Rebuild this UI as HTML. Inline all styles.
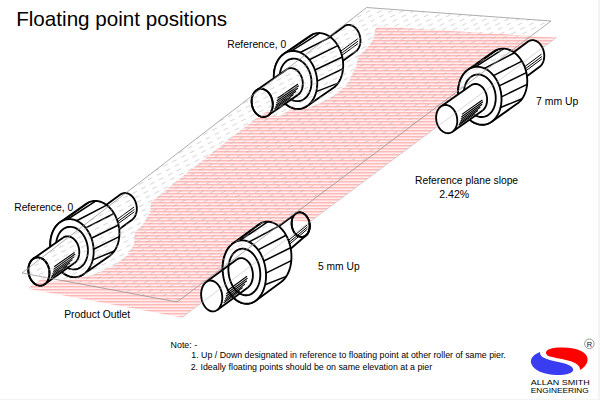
<!DOCTYPE html>
<html><head><meta charset="utf-8"><style>
html,body{margin:0;padding:0;background:#fff;overflow:hidden}
svg{display:block;font-family:"Liberation Sans",sans-serif}
</style></head><body>
<svg width="600" height="400" viewBox="0 0 600 400">
<defs>
<pattern id="pk" width="6" height="3" patternUnits="userSpaceOnUse">
<rect width="6" height="3" fill="#ffeeee"/>
<rect y="1" width="6" height="1" fill="#ffb8b8"/>
<rect y="2" width="6" height="1" fill="#ffd5d5"/>
</pattern>
<pattern id="gd" width="10" height="5" patternUnits="userSpaceOnUse" patternTransform="rotate(-27)">
<path d="M0,2.5 H5" stroke="#b2b2b2" stroke-width="0.5"/>
</pattern>
</defs>
<rect width="600" height="400" fill="#fff"/>
<rect x="598" y="0" width="2" height="400" fill="#f3f3f3"/>
<rect x="0" y="399" width="600" height="1" fill="#f3f3f3"/>
<path d="M556.6,37.4 L182,317.4 L27.7,288.7 L40,278 L50,282 L62,280 L78,278 L96,274 L115,265 L127.5,255 L133.75,245 L135,232.5 L142.5,225 L150,212.5 L151,202.5 L160,195 L175,182.5 L232,137 L257,118 L268,116 L280,116 L289,110 L302.5,107.7 L310,107 L322,102.5 L332.5,96.5 L343,88 L347.5,85 L351,76.25 L356,67.5 L358,57 L363,51.75 L370,44.75 L373.75,37.75 L375.5,29 L377,26.4 Z" fill="url(#pk)"/>
<path d="M344.01,26.41 L344.6,26.02 L345.21,25.68 L345.84,25.4 L346.49,25.18 L347.15,25.01 L347.83,24.91 L348.51,24.87 L349.2,24.88 L349.89,24.96 L350.58,25.1 L351.27,25.29 L351.95,25.55 L352.63,25.86 L353.29,26.23 L353.93,26.65 L354.56,27.13 L355.17,27.66 L355.76,28.23 L356.32,28.85 L356.86,29.52 L357.36,30.22 L357.83,30.97 L358.27,31.74 L358.67,32.55 L359.04,33.39 L359.36,34.25 L359.64,35.13 L359.89,36.02 L360.09,36.93 L360.24,37.85 L360.35,38.77 L360.42,39.69 L360.44,40.61 L360.42,41.53 L360.35,42.43 L360.23,43.31 L360.08,44.18 L359.87,45.03 L359.63,45.85 L359.34,46.64 L359.01,47.4 L358.65,48.12 L358.24,48.8 L357.8,49.44 L357.33,50.04 L356.82,50.59 L356.29,51.09 L355.72,51.53 L321.38,76.57 L320.8,76.97 L320.18,77.31 L319.55,77.59 L318.91,77.81 L318.24,77.97 L317.57,78.08 L316.89,78.12 L316.2,78.1 L315.51,78.02 L314.81,77.89 L314.13,77.69 L313.44,77.44 L312.77,77.12 L312.11,76.75 L311.46,76.33 L310.83,75.85 L310.22,75.33 L309.63,74.75 L309.07,74.13 L308.54,73.47 L308.03,72.76 L307.56,72.02 L307.12,71.24 L306.72,70.43 L306.36,69.6 L306.03,68.74 L305.75,67.86 L305.51,66.96 L305.31,66.05 L305.15,65.14 L305.04,64.22 L304.97,63.29 L304.95,62.37 L304.98,61.46 L305.05,60.56 L305.16,59.67 L305.32,58.8 L305.52,57.96 L305.77,57.14 L306.05,56.34 L306.38,55.59 L306.75,54.86 L307.15,54.18 L307.59,53.54 L308.07,52.95 L308.57,52.4 L309.11,51.9 L309.67,51.45 Z" fill="#fff" stroke="#000" stroke-width="1.85" stroke-linejoin="round"/>
<path d="M338.7,52.68 L357.69,38.84" stroke="#000" stroke-width="1.0" fill="none"/>
<path d="M339,55.07 L357.98,41.23" stroke="#000" stroke-width="1.0" fill="none"/>
<path d="M338.99,57.45 L357.97,43.61" stroke="#000" stroke-width="1.0" fill="none"/>
<path d="M309.81,35.94 L311.04,35.17 L312.31,34.51 L313.62,33.97 L314.96,33.55 L316.33,33.25 L317.72,33.08 L319.13,33.03 L320.54,33.11 L321.96,33.3 L323.38,33.63 L324.8,34.07 L326.19,34.63 L327.57,35.31 L328.92,36.1 L330.24,37.01 L331.52,38.02 L332.76,39.14 L333.95,40.35 L335.08,41.65 L336.16,43.05 L337.18,44.52 L338.12,46.07 L339,47.69 L339.8,49.37 L340.53,51.1 L341.17,52.88 L341.72,54.7 L342.19,56.55 L342.57,58.42 L342.87,60.31 L343.06,62.2 L343.17,64.1 L343.19,65.99 L343.11,67.86 L342.93,69.7 L342.67,71.51 L342.32,73.28 L341.87,75 L341.34,76.67 L340.72,78.28 L340.03,79.81 L339.25,81.27 L338.39,82.64 L337.47,83.93 L336.47,85.12 L335.41,86.22 L334.29,87.21 L333.12,88.09 L307.19,105.98 L305.96,106.75 L304.7,107.41 L303.39,107.95 L302.05,108.37 L300.68,108.66 L299.28,108.84 L297.88,108.89 L296.46,108.81 L295.04,108.61 L293.62,108.29 L292.21,107.85 L290.81,107.29 L289.43,106.61 L288.08,105.81 L286.76,104.91 L285.48,103.9 L284.24,102.78 L283.06,101.57 L281.92,100.26 L280.84,98.87 L279.83,97.4 L278.88,95.85 L278,94.23 L277.2,92.55 L276.48,90.82 L275.84,89.04 L275.28,87.22 L274.81,85.37 L274.43,83.5 L274.14,81.61 L273.94,79.71 L273.83,77.82 L273.82,75.93 L273.9,74.06 L274.07,72.22 L274.33,70.41 L274.69,68.64 L275.13,66.91 L275.66,65.25 L276.28,63.64 L276.98,62.11 L277.76,60.65 L278.61,59.27 L279.54,57.99 L280.53,56.79 L281.59,55.7 L282.71,54.71 L283.89,53.82 Z" fill="#fff" stroke="#000" stroke-width="1.85" stroke-linejoin="round"/>
<path d="M286.85,52.19 L313.38,34.06" stroke="#000" stroke-width="1.5" fill="none"/>
<path d="M291.19,51.03 L319.7,33.05" stroke="#000" stroke-width="1.5" fill="none"/>
<path d="M300.22,52.5 L330.46,37.17" stroke="#000" stroke-width="1.5" fill="none"/>
<path d="M309.29,59.71 L337.84,45.58" stroke="#000" stroke-width="1.5" fill="none"/>
<path d="M314.97,70 L342.3,57.04" stroke="#000" stroke-width="1.5" fill="none"/>
<path d="M317.2,81.07 L343.04,68.72" stroke="#000" stroke-width="1.5" fill="none"/>
<path d="M316.28,91.62 L338.06,83.13" stroke="#000" stroke-width="1.5" fill="none"/>
<path d="M317.23,81.71 L317.25,84.22 L317.1,86.71 L316.79,89.14 L316.31,91.5 L315.68,93.77 L314.89,95.93 L313.96,97.98 L312.88,99.88 L311.68,101.64 L310.35,103.22 L308.91,104.64 L307.36,105.86 L305.73,106.88 L304.02,107.7 L302.24,108.31 L300.42,108.7 L298.55,108.88 L296.67,108.83 L294.77,108.56 L292.88,108.08 L291.01,107.38 L289.18,106.47 L287.39,105.36 L285.67,104.05 L284.02,102.56 L282.46,100.9 L280.99,99.08 L279.64,97.11 L278.41,95.01 L277.31,92.8 L276.35,90.49 L275.54,88.1 L274.87,85.64 L274.37,83.15 L274.02,80.62 L273.84,78.09 L273.83,75.58 L273.97,73.1 L274.29,70.67 L274.76,68.31 L275.4,66.04 L276.18,63.87 L277.12,61.83 L278.19,59.92 L279.4,58.17 L280.73,56.58 L282.17,55.17 L283.71,53.95 L285.34,52.92 L287.05,52.1 L288.83,51.49 L290.66,51.1 L292.52,50.93 L294.41,50.97 L296.3,51.24 L298.19,51.73 L300.06,52.43 L301.9,53.34 L303.68,54.45 L305.41,55.75 L307.06,57.24 L308.62,58.9 L310.08,60.73 L311.43,62.69 L312.66,64.79 L313.76,67 L314.72,69.32 L315.54,71.71 L316.2,74.16 L316.71,76.66 L317.05,79.18 L317.23,81.71 Z" fill="#fff" stroke="#000" stroke-width="1.85"/>
<path d="M311.47,81.23 L311.48,83.08 L311.38,84.9 L311.14,86.68 L310.8,88.42 L310.33,90.09 L309.75,91.68 L309.07,93.18 L308.28,94.58 L307.39,95.87 L306.42,97.03 L305.36,98.07 L304.22,98.97 L303.02,99.72 L301.77,100.32 L300.46,100.77 L299.12,101.06 L297.75,101.19 L296.37,101.15 L294.97,100.95 L293.59,100.6 L292.21,100.08 L290.87,99.41 L289.55,98.6 L288.29,97.64 L287.08,96.55 L285.93,95.33 L284.86,93.99 L283.86,92.54 L282.96,91 L282.15,89.38 L281.44,87.68 L280.85,85.92 L280.36,84.12 L279.99,82.28 L279.73,80.43 L279.6,78.57 L279.59,76.73 L279.7,74.9 L279.93,73.12 L280.28,71.39 L280.74,69.72 L281.32,68.13 L282.01,66.63 L282.8,65.23 L283.68,63.94 L284.66,62.77 L285.72,61.74 L286.85,60.84 L288.05,60.08 L289.31,59.48 L290.61,59.03 L291.95,58.75 L293.32,58.62 L294.71,58.65 L296.1,58.85 L297.49,59.21 L298.86,59.72 L300.21,60.39 L301.52,61.21 L302.79,62.17 L304,63.26 L305.14,64.48 L306.22,65.82 L307.21,67.26 L308.11,68.8 L308.92,70.43 L309.63,72.13 L310.23,73.88 L310.72,75.69 L311.09,77.52 L311.34,79.37 L311.47,81.23 Z" fill="#fff" stroke="#000" stroke-width="1.85"/>
<path d="M286.57,69.48 L287.17,69.11 L287.79,68.79 L288.42,68.52 L289.08,68.32 L289.74,68.18 L290.42,68.09 L291.11,68.07 L291.8,68.1 L292.49,68.2 L293.18,68.36 L293.87,68.57 L294.55,68.84 L295.22,69.18 L295.87,69.56 L296.51,70 L297.14,70.5 L297.74,71.04 L298.32,71.63 L298.87,72.26 L299.4,72.94 L299.89,73.66 L300.35,74.41 L300.78,75.2 L301.17,76.02 L301.52,76.86 L301.83,77.73 L302.1,78.61 L302.33,79.51 L302.52,80.42 L302.66,81.34 L302.76,82.27 L302.81,83.19 L302.82,84.11 L302.78,85.02 L302.69,85.91 L302.57,86.8 L302.39,87.66 L302.18,88.5 L301.92,89.31 L301.62,90.09 L301.28,90.83 L300.9,91.54 L300.48,92.21 L300.03,92.84 L299.55,93.42 L299.03,93.95 L298.49,94.44 L297.92,94.87 L267.87,115.59 L267.28,115.97 L266.66,116.29 L266.02,116.55 L265.37,116.75 L264.7,116.9 L264.02,116.98 L263.34,117.01 L262.65,116.97 L261.96,116.87 L261.27,116.72 L260.58,116.5 L259.9,116.23 L259.23,115.9 L258.57,115.51 L257.93,115.07 L257.31,114.58 L256.7,114.04 L256.12,113.45 L255.57,112.81 L255.05,112.13 L254.55,111.41 L254.09,110.66 L253.67,109.87 L253.28,109.06 L252.92,108.21 L252.61,107.35 L252.34,106.46 L252.11,105.56 L251.93,104.65 L251.78,103.73 L251.69,102.81 L251.64,101.89 L251.63,100.97 L251.67,100.06 L251.75,99.16 L251.88,98.28 L252.05,97.42 L252.27,96.58 L252.53,95.77 L252.83,94.99 L253.17,94.24 L253.55,93.53 L253.96,92.86 L254.41,92.23 L254.9,91.65 L255.41,91.12 L255.96,90.64 L256.53,90.21 Z" fill="#fff" stroke="none"/>
<path d="M256.53,90.21 L286.57,69.48" stroke="#000" stroke-width="1.85" fill="none"/>
<path d="M267.87,115.59 L297.92,94.87" stroke="#000" stroke-width="1.85" fill="none"/>
<path d="M286.57,69.48 L287.29,69.04 L288.04,68.67 L288.81,68.39 L289.61,68.2 L290.42,68.09 L291.24,68.07 L292.07,68.13 L292.9,68.29 L293.73,68.52 L294.55,68.84 L295.35,69.25 L296.13,69.73 L296.89,70.29 L297.62,70.93 L298.32,71.63 L298.98,72.4 L299.6,73.22 L300.17,74.11 L300.7,75.04 L301.17,76.02 L301.59,77.03 L301.95,78.08 L302.25,79.15 L302.49,80.24 L302.66,81.34 L302.77,82.45 L302.82,83.56 L302.8,84.65 L302.71,85.74 L302.57,86.8 L302.35,87.83 L302.08,88.82 L301.74,89.78 L301.35,90.69 L300.9,91.54 L300.4,92.34 L299.84,93.08 L299.24,93.75 L298.6,94.34 L297.92,94.87" fill="none" stroke="#000" stroke-width="1.85"/>
<path d="M277.5,98.26 L298.08,84.06" stroke="#000" stroke-width="1.1" fill="none"/>
<path d="M276.87,100.8 L298.68,85.75" stroke="#000" stroke-width="1.1" fill="none"/>
<path d="M276.45,103.04 L297.85,88.28" stroke="#000" stroke-width="1.1" fill="none"/>
<path d="M275.82,105.23 L295.98,91.32" stroke="#000" stroke-width="1.1" fill="none"/>
<path d="M274.99,107.33 L293.51,94.56" stroke="#000" stroke-width="1.1" fill="none"/>
<path d="M274.21,109.14 L290.83,97.67" stroke="#000" stroke-width="1.1" fill="none"/>
<path d="M272.76,103.78 L272.77,105 L272.7,106.21 L272.54,107.39 L272.31,108.54 L272,109.65 L271.62,110.7 L271.17,111.7 L270.64,112.62 L270.06,113.48 L269.41,114.25 L268.71,114.94 L267.96,115.53 L267.16,116.03 L266.33,116.43 L265.46,116.73 L264.58,116.92 L263.67,117 L262.75,116.98 L261.83,116.85 L260.91,116.61 L260,116.27 L259.11,115.83 L258.24,115.29 L257.4,114.65 L256.59,113.93 L255.83,113.12 L255.12,112.23 L254.46,111.28 L253.87,110.26 L253.33,109.18 L252.86,108.05 L252.46,106.89 L252.14,105.69 L251.9,104.48 L251.73,103.25 L251.64,102.02 L251.63,100.8 L251.7,99.59 L251.86,98.41 L252.09,97.26 L252.4,96.15 L252.78,95.1 L253.23,94.1 L253.76,93.18 L254.34,92.32 L254.99,91.55 L255.69,90.86 L256.44,90.27 L257.24,89.77 L258.07,89.37 L258.94,89.07 L259.82,88.88 L260.73,88.8 L261.65,88.82 L262.57,88.95 L263.49,89.19 L264.4,89.53 L265.29,89.97 L266.16,90.51 L267,91.15 L267.81,91.87 L268.57,92.68 L269.28,93.57 L269.94,94.52 L270.53,95.54 L271.07,96.62 L271.54,97.75 L271.94,98.91 L272.26,100.11 L272.5,101.32 L272.67,102.55 L272.76,103.78 Z" fill="#fff" stroke="#000" stroke-width="1.85"/>
<path d="M527.76,41.75 L528.35,41.35 L528.96,41.01 L529.58,40.72 L530.23,40.49 L530.89,40.32 L531.56,40.21 L532.25,40.15 L532.93,40.16 L533.63,40.23 L534.32,40.36 L535.01,40.55 L535.69,40.8 L536.37,41.1 L537.03,41.47 L537.68,41.88 L538.31,42.35 L538.92,42.87 L539.51,43.44 L540.08,44.06 L540.61,44.72 L541.12,45.42 L541.6,46.16 L542.04,46.93 L542.45,47.73 L542.82,48.56 L543.15,49.42 L543.44,50.3 L543.68,51.19 L543.89,52.1 L544.05,53.02 L544.17,53.94 L544.24,54.86 L544.27,55.78 L544.25,56.69 L544.18,57.6 L544.08,58.49 L543.92,59.36 L543.73,60.21 L543.49,61.03 L543.21,61.83 L542.88,62.59 L542.52,63.32 L542.12,64 L541.69,64.65 L541.22,65.25 L540.71,65.81 L540.18,66.31 L539.62,66.77 L505.55,92.16 L504.96,92.56 L504.35,92.91 L503.73,93.2 L503.08,93.43 L502.42,93.6 L501.75,93.71 L501.06,93.76 L500.38,93.75 L499.68,93.68 L498.99,93.55 L498.3,93.36 L497.62,93.12 L496.94,92.81 L496.28,92.45 L495.63,92.03 L495,91.56 L494.39,91.04 L493.8,90.47 L493.23,89.86 L492.7,89.2 L492.19,88.5 L491.71,87.76 L491.27,86.99 L490.86,86.18 L490.49,85.35 L490.16,84.49 L489.87,83.62 L489.63,82.72 L489.42,81.82 L489.26,80.9 L489.14,79.98 L489.07,79.05 L489.04,78.13 L489.06,77.22 L489.12,76.32 L489.23,75.43 L489.39,74.56 L489.58,73.71 L489.82,72.88 L490.1,72.09 L490.43,71.33 L490.79,70.6 L491.19,69.91 L491.62,69.26 L492.09,68.66 L492.6,68.11 L493.13,67.6 L493.69,67.15 Z" fill="#fff" stroke="#000" stroke-width="1.85" stroke-linejoin="round"/>
<path d="M522.69,68.19 L541.53,54.15" stroke="#000" stroke-width="1.0" fill="none"/>
<path d="M522.99,70.58 L541.83,56.54" stroke="#000" stroke-width="1.0" fill="none"/>
<path d="M522.98,72.96 L541.82,58.92" stroke="#000" stroke-width="1.0" fill="none"/>
<path d="M493.73,51.62 L494.95,50.84 L496.21,50.17 L497.52,49.61 L498.85,49.18 L500.22,48.87 L501.61,48.68 L503.01,48.61 L504.43,48.67 L505.85,48.85 L507.27,49.16 L508.69,49.59 L510.08,50.13 L511.46,50.8 L512.82,51.58 L514.14,52.47 L515.43,53.47 L516.67,54.57 L517.87,55.77 L519.01,57.07 L520.1,58.45 L521.12,59.91 L522.08,61.45 L522.96,63.06 L523.77,64.73 L524.51,66.46 L525.16,68.23 L525.73,70.04 L526.21,71.89 L526.6,73.76 L526.9,75.65 L527.11,77.54 L527.23,79.44 L527.26,81.33 L527.19,83.2 L527.03,85.05 L526.78,86.86 L526.43,88.64 L526,90.37 L525.48,92.04 L524.88,93.66 L524.19,95.2 L523.42,96.67 L522.57,98.06 L521.66,99.35 L520.67,100.56 L519.62,101.67 L518.51,102.67 L517.34,103.57 L491.6,121.73 L490.38,122.51 L489.12,123.18 L487.81,123.74 L486.48,124.17 L485.11,124.48 L483.72,124.67 L482.31,124.74 L480.9,124.68 L479.48,124.5 L478.06,124.19 L476.64,123.76 L475.24,123.22 L473.86,122.55 L472.51,121.77 L471.19,120.88 L469.9,119.88 L468.66,118.78 L467.46,117.58 L466.32,116.29 L465.23,114.9 L464.21,113.44 L463.25,111.9 L462.37,110.29 L461.56,108.62 L460.82,106.89 L460.17,105.12 L459.6,103.31 L459.12,101.46 L458.73,99.59 L458.43,97.7 L458.22,95.81 L458.1,93.91 L458.07,92.02 L458.14,90.15 L458.3,88.3 L458.55,86.49 L458.89,84.71 L459.33,82.98 L459.85,81.31 L460.45,79.69 L461.14,78.15 L461.91,76.68 L462.75,75.3 L463.67,74 L464.66,72.79 L465.71,71.68 L466.82,70.68 L467.99,69.78 Z" fill="#fff" stroke="#000" stroke-width="1.85" stroke-linejoin="round"/>
<path d="M471.11,68.04 L497.45,49.64" stroke="#000" stroke-width="1.5" fill="none"/>
<path d="M475.45,66.88 L503.77,48.63" stroke="#000" stroke-width="1.5" fill="none"/>
<path d="M484.47,68.35 L514.53,52.76" stroke="#000" stroke-width="1.5" fill="none"/>
<path d="M493.55,75.56 L521.91,61.16" stroke="#000" stroke-width="1.5" fill="none"/>
<path d="M499.23,85.85 L526.37,72.62" stroke="#000" stroke-width="1.5" fill="none"/>
<path d="M501.46,96.92 L527.11,84.31" stroke="#000" stroke-width="1.5" fill="none"/>
<path d="M500.54,107.47 L522.13,98.71" stroke="#000" stroke-width="1.5" fill="none"/>
<path d="M501.49,97.56 L501.51,100.08 L501.36,102.56 L501.04,104.99 L500.57,107.35 L499.94,109.62 L499.15,111.78 L498.21,113.83 L497.14,115.73 L495.93,117.49 L494.61,119.08 L493.16,120.49 L491.62,121.71 L489.99,122.74 L488.28,123.56 L486.5,124.16 L484.67,124.56 L482.81,124.73 L480.92,124.68 L479.03,124.41 L477.14,123.93 L475.27,123.23 L473.44,122.32 L471.65,121.21 L469.92,119.9 L468.28,118.41 L466.71,116.75 L465.25,114.93 L463.9,112.96 L462.67,110.87 L461.57,108.65 L460.61,106.34 L459.79,103.95 L459.13,101.5 L458.62,99 L458.28,96.47 L458.1,93.95 L458.08,91.43 L458.23,88.95 L458.55,86.52 L459.02,84.16 L459.65,81.89 L460.44,79.72 L461.37,77.68 L462.45,75.77 L463.65,74.02 L464.98,72.43 L466.42,71.02 L467.97,69.8 L469.6,68.77 L471.31,67.95 L473.09,67.34 L474.91,66.95 L476.78,66.78 L478.66,66.83 L480.56,67.09 L482.45,67.58 L484.32,68.28 L486.15,69.19 L487.94,70.3 L489.66,71.61 L491.31,73.1 L492.87,74.76 L494.34,76.58 L495.69,78.54 L496.92,80.64 L498.02,82.86 L498.98,85.17 L499.8,87.56 L500.46,90.01 L500.96,92.51 L501.31,95.03 L501.49,97.56 Z" fill="#fff" stroke="#000" stroke-width="1.85"/>
<path d="M495.73,97.08 L495.74,98.93 L495.63,100.75 L495.4,102.54 L495.05,104.27 L494.59,105.94 L494.01,107.53 L493.32,109.03 L492.54,110.43 L491.65,111.72 L490.67,112.89 L489.61,113.92 L488.48,114.82 L487.28,115.57 L486.02,116.18 L484.72,116.62 L483.38,116.91 L482.01,117.04 L480.62,117 L479.23,116.81 L477.84,116.45 L476.47,115.93 L475.12,115.27 L473.81,114.45 L472.55,113.49 L471.33,112.4 L470.19,111.18 L469.11,109.84 L468.12,108.4 L467.22,106.85 L466.41,105.23 L465.7,103.53 L465.1,101.77 L464.62,99.97 L464.24,98.14 L463.99,96.28 L463.86,94.43 L463.85,92.58 L463.96,90.76 L464.19,88.97 L464.54,87.24 L465,85.57 L465.58,83.98 L466.26,82.48 L467.05,81.08 L467.94,79.79 L468.92,78.62 L469.97,77.59 L471.11,76.69 L472.31,75.94 L473.56,75.33 L474.87,74.89 L476.21,74.6 L477.58,74.47 L478.96,74.51 L480.36,74.7 L481.74,75.06 L483.12,75.57 L484.46,76.24 L485.78,77.06 L487.04,78.02 L488.25,79.11 L489.4,80.33 L490.48,81.67 L491.47,83.11 L492.37,84.65 L493.18,86.28 L493.89,87.98 L494.49,89.74 L494.97,91.54 L495.34,93.37 L495.6,95.23 L495.73,97.08 Z" fill="#fff" stroke="#000" stroke-width="1.85"/>
<path d="M470.78,85.42 L471.37,85.04 L471.99,84.71 L472.62,84.44 L473.27,84.23 L473.94,84.08 L474.61,83.98 L475.3,83.95 L475.99,83.98 L476.68,84.07 L477.37,84.22 L478.06,84.43 L478.74,84.69 L479.41,85.02 L480.07,85.4 L480.72,85.83 L481.34,86.32 L481.95,86.85 L482.53,87.44 L483.09,88.07 L483.61,88.74 L484.11,89.45 L484.58,90.2 L485.01,90.98 L485.4,91.8 L485.76,92.64 L486.08,93.5 L486.35,94.38 L486.59,95.28 L486.78,96.19 L486.93,97.11 L487.03,98.03 L487.09,98.96 L487.1,99.88 L487.07,100.79 L486.99,101.69 L486.87,102.57 L486.7,103.44 L486.49,104.28 L486.23,105.09 L485.94,105.88 L485.6,106.63 L485.23,107.34 L484.82,108.02 L484.37,108.65 L483.89,109.24 L483.38,109.78 L482.84,110.26 L482.27,110.7 L452.45,131.74 L451.85,132.12 L451.24,132.45 L450.6,132.72 L449.95,132.93 L449.29,133.08 L448.61,133.18 L447.93,133.21 L447.24,133.18 L446.55,133.09 L445.85,132.94 L445.17,132.73 L444.49,132.47 L443.81,132.14 L443.15,131.76 L442.51,131.33 L441.88,130.84 L441.28,130.31 L440.7,129.72 L440.14,129.09 L439.61,128.42 L439.11,127.71 L438.65,126.96 L438.22,126.18 L437.82,125.36 L437.47,124.52 L437.15,123.66 L436.87,122.78 L436.64,121.88 L436.45,120.97 L436.3,120.05 L436.2,119.13 L436.14,118.2 L436.13,117.28 L436.16,116.37 L436.24,115.47 L436.36,114.59 L436.53,113.72 L436.74,112.88 L436.99,112.07 L437.29,111.28 L437.62,110.53 L437.99,109.82 L438.41,109.14 L438.85,108.51 L439.33,107.92 L439.85,107.38 L440.39,106.9 L440.95,106.46 Z" fill="#fff" stroke="none"/>
<path d="M440.95,106.46 L470.78,85.42" stroke="#000" stroke-width="1.85" fill="none"/>
<path d="M452.45,131.74 L482.27,110.7" stroke="#000" stroke-width="1.85" fill="none"/>
<path d="M470.78,85.42 L471.49,84.97 L472.24,84.59 L473.01,84.31 L473.8,84.1 L474.61,83.98 L475.44,83.95 L476.27,84.01 L477.1,84.15 L477.92,84.38 L478.74,84.69 L479.54,85.09 L480.33,85.56 L481.09,86.12 L481.83,86.74 L482.53,87.44 L483.19,88.2 L483.82,89.02 L484.4,89.9 L484.92,90.83 L485.4,91.8 L485.83,92.81 L486.19,93.85 L486.5,94.92 L486.74,96.01 L486.93,97.11 L487.04,98.22 L487.1,99.33 L487.08,100.42 L487.01,101.51 L486.87,102.57 L486.66,103.61 L486.39,104.61 L486.06,105.57 L485.68,106.48 L485.23,107.34 L484.73,108.15 L484.18,108.89 L483.59,109.57 L482.95,110.17 L482.27,110.7" fill="none" stroke="#000" stroke-width="1.85"/>
<path d="M461.96,114.41 L482.39,100" stroke="#000" stroke-width="1.1" fill="none"/>
<path d="M461.34,116.96 L482.99,101.68" stroke="#000" stroke-width="1.1" fill="none"/>
<path d="M460.92,119.2 L482.17,104.22" stroke="#000" stroke-width="1.1" fill="none"/>
<path d="M460.29,121.4 L480.31,107.28" stroke="#000" stroke-width="1.1" fill="none"/>
<path d="M459.46,123.5 L477.85,110.53" stroke="#000" stroke-width="1.1" fill="none"/>
<path d="M458.69,125.31 L475.19,113.66" stroke="#000" stroke-width="1.1" fill="none"/>
<path d="M457.26,119.98 L457.27,121.2 L457.2,122.41 L457.04,123.59 L456.81,124.74 L456.5,125.85 L456.12,126.9 L455.67,127.9 L455.14,128.82 L454.56,129.68 L453.91,130.45 L453.21,131.14 L452.46,131.73 L451.66,132.23 L450.83,132.63 L449.96,132.93 L449.08,133.12 L448.17,133.2 L447.25,133.18 L446.33,133.05 L445.41,132.81 L444.5,132.47 L443.61,132.03 L442.74,131.49 L441.9,130.85 L441.09,130.13 L440.33,129.32 L439.62,128.43 L438.96,127.48 L438.37,126.46 L437.83,125.38 L437.36,124.25 L436.96,123.09 L436.64,121.89 L436.4,120.68 L436.23,119.45 L436.14,118.22 L436.13,117 L436.2,115.79 L436.36,114.61 L436.59,113.46 L436.9,112.35 L437.28,111.3 L437.73,110.3 L438.26,109.38 L438.84,108.52 L439.49,107.75 L440.19,107.06 L440.94,106.47 L441.74,105.97 L442.57,105.57 L443.44,105.27 L444.32,105.08 L445.23,105 L446.15,105.02 L447.07,105.15 L447.99,105.39 L448.9,105.73 L449.79,106.17 L450.66,106.71 L451.5,107.35 L452.31,108.07 L453.07,108.88 L453.78,109.77 L454.44,110.72 L455.03,111.74 L455.57,112.82 L456.04,113.95 L456.44,115.11 L456.76,116.31 L457,117.52 L457.17,118.75 L457.26,119.98 Z" fill="#fff" stroke="#000" stroke-width="1.85"/>
<path d="M120.34,194.58 L120.92,194.18 L121.53,193.84 L122.16,193.56 L122.81,193.33 L123.47,193.16 L124.15,193.06 L124.83,193.01 L125.52,193.02 L126.21,193.1 L126.9,193.23 L127.59,193.42 L128.27,193.67 L128.95,193.98 L129.61,194.35 L130.26,194.77 L130.89,195.24 L131.5,195.76 L132.09,196.34 L132.65,196.96 L133.19,197.62 L133.69,198.32 L134.17,199.06 L134.61,199.84 L135.01,200.64 L135.38,201.47 L135.7,202.33 L135.99,203.21 L136.24,204.11 L136.44,205.01 L136.6,205.93 L136.71,206.85 L136.78,207.78 L136.81,208.7 L136.78,209.61 L136.72,210.51 L136.61,211.4 L136.45,212.27 L136.25,213.12 L136.01,213.94 L135.72,214.73 L135.4,215.49 L135.04,216.22 L134.63,216.9 L134.2,217.55 L133.72,218.15 L133.22,218.7 L132.69,219.2 L132.12,219.65 L97.92,244.87 L97.33,245.27 L96.72,245.61 L96.09,245.89 L95.44,246.12 L94.78,246.28 L94.11,246.39 L93.43,246.44 L92.74,246.43 L92.05,246.35 L91.35,246.22 L90.66,246.03 L89.98,245.77 L89.31,245.47 L88.64,245.1 L88,244.68 L87.37,244.21 L86.76,243.68 L86.17,243.11 L85.6,242.49 L85.07,241.83 L84.56,241.13 L84.09,240.39 L83.65,239.61 L83.24,238.81 L82.88,237.97 L82.55,237.12 L82.26,236.24 L82.02,235.34 L81.81,234.43 L81.66,233.52 L81.54,232.6 L81.47,231.67 L81.45,230.75 L81.47,229.84 L81.54,228.94 L81.65,228.05 L81.8,227.18 L82,226.33 L82.25,225.51 L82.53,224.72 L82.85,223.96 L83.22,223.23 L83.62,222.55 L84.06,221.9 L84.53,221.3 L85.03,220.75 L85.57,220.25 L86.13,219.8 Z" fill="#fff" stroke="#000" stroke-width="1.85" stroke-linejoin="round"/>
<path d="M115.15,220.94 L134.06,206.99" stroke="#000" stroke-width="1.0" fill="none"/>
<path d="M115.44,223.33 L134.36,209.38" stroke="#000" stroke-width="1.0" fill="none"/>
<path d="M115.43,225.71 L134.35,211.76" stroke="#000" stroke-width="1.0" fill="none"/>
<path d="M85.88,203.98 L87.1,203.2 L88.36,202.52 L89.67,201.97 L91,201.53 L92.37,201.22 L93.76,201.03 L95.16,200.96 L96.58,201.02 L98,201.2 L99.42,201.5 L100.83,201.93 L102.23,202.48 L103.61,203.14 L104.97,203.92 L106.29,204.81 L107.58,205.81 L108.82,206.91 L110.02,208.11 L111.16,209.4 L112.25,210.78 L113.27,212.24 L114.23,213.78 L115.12,215.39 L115.93,217.06 L116.66,218.79 L117.32,220.56 L117.88,222.37 L118.37,224.22 L118.76,226.09 L119.06,227.98 L119.28,229.87 L119.39,231.77 L119.42,233.66 L119.36,235.53 L119.2,237.38 L118.94,239.19 L118.6,240.97 L118.17,242.7 L117.65,244.38 L117.05,245.99 L116.36,247.53 L115.59,249 L114.75,250.39 L113.83,251.69 L112.84,252.9 L111.79,254.01 L110.68,255.01 L109.51,255.91 L83.79,274.09 L82.57,274.88 L81.31,275.55 L80.01,276.1 L78.67,276.54 L77.3,276.85 L75.91,277.04 L74.51,277.11 L73.09,277.05 L71.67,276.87 L70.25,276.57 L68.84,276.14 L67.44,275.59 L66.06,274.93 L64.7,274.15 L63.38,273.26 L62.09,272.27 L60.85,271.16 L59.65,269.96 L58.51,268.67 L57.42,267.29 L56.4,265.83 L55.44,264.29 L54.56,262.68 L53.74,261.01 L53.01,259.28 L52.36,257.51 L51.79,255.7 L51.31,253.85 L50.91,251.98 L50.61,250.09 L50.4,248.2 L50.28,246.3 L50.25,244.41 L50.32,242.54 L50.48,240.69 L50.73,238.88 L51.07,237.1 L51.5,235.37 L52.02,233.7 L52.63,232.08 L53.31,230.54 L54.08,229.07 L54.92,227.68 L55.84,226.38 L56.83,225.17 L57.88,224.07 L58.99,223.06 L60.16,222.16 Z" fill="#fff" stroke="#000" stroke-width="1.85" stroke-linejoin="round"/>
<path d="M63.29,220.41 L89.61,201.99" stroke="#000" stroke-width="1.5" fill="none"/>
<path d="M67.63,219.25 L95.94,200.98" stroke="#000" stroke-width="1.5" fill="none"/>
<path d="M76.65,220.72 L106.69,205.1" stroke="#000" stroke-width="1.5" fill="none"/>
<path d="M85.73,227.94 L114.07,213.51" stroke="#000" stroke-width="1.5" fill="none"/>
<path d="M91.41,238.22 L118.53,224.97" stroke="#000" stroke-width="1.5" fill="none"/>
<path d="M93.64,249.29 L119.27,236.65" stroke="#000" stroke-width="1.5" fill="none"/>
<path d="M92.72,259.84 L114.29,251.06" stroke="#000" stroke-width="1.5" fill="none"/>
<path d="M93.67,249.93 L93.69,252.45 L93.54,254.93 L93.22,257.36 L92.75,259.72 L92.11,261.99 L91.33,264.16 L90.39,266.2 L89.32,268.11 L88.11,269.86 L86.79,271.45 L85.34,272.86 L83.8,274.08 L82.17,275.11 L80.46,275.93 L78.68,276.54 L76.85,276.93 L74.99,277.1 L73.1,277.05 L71.21,276.79 L69.32,276.3 L67.45,275.6 L65.62,274.69 L63.83,273.58 L62.1,272.27 L60.46,270.79 L58.89,269.12 L57.43,267.3 L56.08,265.34 L54.85,263.24 L53.75,261.02 L52.79,258.71 L51.97,256.32 L51.31,253.87 L50.8,251.37 L50.46,248.85 L50.28,246.32 L50.26,243.8 L50.41,241.32 L50.72,238.89 L51.2,236.53 L51.83,234.26 L52.62,232.1 L53.55,230.05 L54.63,228.15 L55.83,226.39 L57.16,224.8 L58.6,223.39 L60.15,222.17 L61.78,221.14 L63.49,220.32 L65.27,219.72 L67.09,219.32 L68.96,219.15 L70.84,219.2 L72.74,219.47 L74.63,219.95 L76.5,220.65 L78.33,221.56 L80.12,222.67 L81.84,223.98 L83.49,225.47 L85.05,227.13 L86.52,228.95 L87.87,230.92 L89.1,233.01 L90.2,235.23 L91.16,237.54 L91.98,239.93 L92.64,242.38 L93.14,244.88 L93.49,247.41 L93.67,249.93 Z" fill="#fff" stroke="#000" stroke-width="1.85"/>
<path d="M87.91,249.45 L87.92,251.3 L87.81,253.12 L87.58,254.91 L87.23,256.64 L86.77,258.31 L86.19,259.9 L85.5,261.4 L84.72,262.8 L83.83,264.09 L82.85,265.26 L81.79,266.29 L80.66,267.19 L79.46,267.94 L78.2,268.55 L76.9,268.99 L75.56,269.28 L74.19,269.41 L72.8,269.37 L71.41,269.18 L70.02,268.82 L68.65,268.31 L67.3,267.64 L65.99,266.82 L64.72,265.86 L63.51,264.77 L62.37,263.55 L61.29,262.21 L60.3,260.77 L59.4,259.23 L58.59,257.6 L57.88,255.9 L57.28,254.14 L56.8,252.34 L56.42,250.51 L56.17,248.65 L56.04,246.8 L56.03,244.95 L56.14,243.13 L56.37,241.34 L56.72,239.61 L57.18,237.94 L57.76,236.35 L58.44,234.85 L59.23,233.45 L60.12,232.16 L61.09,231 L62.15,229.96 L63.29,229.06 L64.49,228.31 L65.74,227.7 L67.05,227.26 L68.39,226.97 L69.76,226.84 L71.14,226.88 L72.54,227.07 L73.92,227.43 L75.3,227.95 L76.64,228.61 L77.96,229.43 L79.22,230.39 L80.43,231.48 L81.58,232.7 L82.66,234.04 L83.65,235.48 L84.55,237.03 L85.36,238.65 L86.07,240.35 L86.67,242.11 L87.15,243.91 L87.52,245.74 L87.78,247.6 L87.91,249.45 Z" fill="#fff" stroke="#000" stroke-width="1.85"/>
<path d="M62.96,237.8 L63.55,237.41 L64.16,237.09 L64.8,236.82 L65.45,236.6 L66.11,236.45 L66.79,236.36 L67.47,236.33 L68.16,236.35 L68.85,236.44 L69.55,236.59 L70.23,236.8 L70.91,237.06 L71.59,237.39 L72.25,237.77 L72.89,238.2 L73.52,238.68 L74.12,239.22 L74.7,239.8 L75.26,240.43 L75.79,241.11 L76.29,241.82 L76.75,242.57 L77.19,243.35 L77.58,244.16 L77.94,245 L78.26,245.87 L78.53,246.75 L78.77,247.65 L78.96,248.56 L79.11,249.48 L79.21,250.4 L79.27,251.32 L79.28,252.24 L79.25,253.15 L79.17,254.05 L79.05,254.94 L78.88,255.8 L78.67,256.64 L78.42,257.46 L78.13,258.24 L77.79,258.99 L77.42,259.71 L77.01,260.38 L76.56,261.02 L76.08,261.6 L75.57,262.14 L75.03,262.63 L74.46,263.07 L44.65,284.14 L44.06,284.52 L43.44,284.85 L42.81,285.12 L42.16,285.33 L41.49,285.48 L40.82,285.57 L40.13,285.61 L39.44,285.58 L38.75,285.49 L38.06,285.34 L37.37,285.14 L36.69,284.87 L36.02,284.55 L35.36,284.17 L34.72,283.73 L34.09,283.25 L33.49,282.71 L32.9,282.13 L32.35,281.5 L31.82,280.83 L31.32,280.12 L30.85,279.37 L30.42,278.58 L30.03,277.77 L29.67,276.93 L29.35,276.07 L29.08,275.19 L28.84,274.29 L28.65,273.38 L28.5,272.46 L28.4,271.54 L28.34,270.61 L28.33,269.69 L28.36,268.78 L28.44,267.88 L28.56,267 L28.73,266.13 L28.94,265.29 L29.19,264.48 L29.48,263.69 L29.82,262.94 L30.19,262.22 L30.6,261.55 L31.05,260.92 L31.53,260.33 L32.04,259.79 L32.58,259.3 L33.15,258.86 Z" fill="#fff" stroke="none"/>
<path d="M33.15,258.86 L62.96,237.8" stroke="#000" stroke-width="1.85" fill="none"/>
<path d="M44.65,284.14 L74.46,263.07" stroke="#000" stroke-width="1.85" fill="none"/>
<path d="M62.96,237.8 L63.67,237.34 L64.41,236.97 L65.19,236.68 L65.98,236.48 L66.79,236.36 L67.61,236.33 L68.44,236.38 L69.27,236.52 L70.1,236.75 L70.91,237.06 L71.72,237.46 L72.51,237.93 L73.27,238.48 L74,239.11 L74.7,239.8 L75.37,240.57 L75.99,241.39 L76.57,242.26 L77.1,243.19 L77.58,244.16 L78,245.17 L78.37,246.22 L78.68,247.29 L78.92,248.38 L79.11,249.48 L79.22,250.58 L79.28,251.69 L79.27,252.79 L79.19,253.87 L79.05,254.94 L78.84,255.97 L78.58,256.97 L78.25,257.93 L77.86,258.85 L77.42,259.71 L76.92,260.51 L76.37,261.26 L75.78,261.93 L75.14,262.54 L74.46,263.07" fill="none" stroke="#000" stroke-width="1.85"/>
<path d="M54.16,266.8 L74.58,252.37" stroke="#000" stroke-width="1.1" fill="none"/>
<path d="M53.54,269.35 L75.18,254.06" stroke="#000" stroke-width="1.1" fill="none"/>
<path d="M53.12,271.6 L74.35,256.59" stroke="#000" stroke-width="1.1" fill="none"/>
<path d="M52.49,273.8 L72.5,259.66" stroke="#000" stroke-width="1.1" fill="none"/>
<path d="M51.66,275.9 L70.04,262.91" stroke="#000" stroke-width="1.1" fill="none"/>
<path d="M50.89,277.71 L67.38,266.05" stroke="#000" stroke-width="1.1" fill="none"/>
<path d="M49.46,272.38 L49.47,273.6 L49.4,274.81 L49.24,275.99 L49.01,277.14 L48.7,278.25 L48.32,279.3 L47.87,280.3 L47.34,281.22 L46.76,282.08 L46.11,282.85 L45.41,283.54 L44.66,284.13 L43.86,284.63 L43.03,285.03 L42.16,285.33 L41.28,285.52 L40.37,285.6 L39.45,285.58 L38.53,285.45 L37.61,285.21 L36.7,284.87 L35.81,284.43 L34.94,283.89 L34.1,283.25 L33.29,282.53 L32.53,281.72 L31.82,280.83 L31.16,279.88 L30.57,278.86 L30.03,277.78 L29.56,276.65 L29.16,275.49 L28.84,274.29 L28.6,273.08 L28.43,271.85 L28.34,270.62 L28.33,269.4 L28.4,268.19 L28.56,267.01 L28.79,265.86 L29.1,264.75 L29.48,263.7 L29.93,262.7 L30.46,261.78 L31.04,260.92 L31.69,260.15 L32.39,259.46 L33.14,258.87 L33.94,258.37 L34.77,257.97 L35.64,257.67 L36.52,257.48 L37.43,257.4 L38.35,257.42 L39.27,257.55 L40.19,257.79 L41.1,258.13 L41.99,258.57 L42.86,259.11 L43.7,259.75 L44.51,260.47 L45.27,261.28 L45.98,262.17 L46.64,263.12 L47.23,264.14 L47.77,265.22 L48.24,266.35 L48.64,267.51 L48.96,268.71 L49.2,269.92 L49.37,271.15 L49.46,272.38 Z" fill="#fff" stroke="#000" stroke-width="1.85"/>
<path d="M295.44,214 L295.94,213.63 L296.45,213.32 L296.98,213.05 L297.53,212.83 L298.09,212.67 L298.66,212.55 L299.24,212.49 L299.83,212.48 L300.42,212.52 L301.01,212.62 L301.6,212.77 L302.19,212.96 L302.76,213.21 L303.33,213.51 L303.89,213.85 L304.44,214.25 L304.97,214.68 L305.48,215.16 L305.97,215.68 L306.44,216.24 L306.88,216.84 L307.29,217.47 L307.68,218.13 L308.04,218.82 L308.37,219.53 L308.66,220.27 L308.92,221.02 L309.14,221.79 L309.33,222.58 L309.48,223.37 L309.59,224.17 L309.67,224.97 L309.7,225.77 L309.7,226.57 L309.66,227.35 L309.58,228.13 L309.46,228.89 L309.3,229.64 L309.11,230.36 L308.88,231.06 L308.62,231.73 L308.32,232.37 L307.99,232.98 L307.63,233.55 L307.23,234.09 L306.81,234.58 L306.37,235.04 L305.9,235.45 L269.33,267.28 L268.75,267.71 L268.15,268.08 L267.52,268.39 L266.88,268.65 L266.23,268.84 L265.56,268.97 L264.88,269.05 L264.19,269.06 L263.5,269.01 L262.81,268.9 L262.12,268.73 L261.43,268.49 L260.76,268.2 L260.09,267.86 L259.43,267.45 L258.8,266.99 L258.18,266.48 L257.58,265.92 L257.01,265.31 L256.46,264.66 L255.94,263.96 L255.45,263.22 L255,262.45 L254.58,261.64 L254.2,260.81 L253.86,259.95 L253.56,259.06 L253.29,258.16 L253.07,257.24 L252.9,256.32 L252.77,255.38 L252.68,254.44 L252.64,253.51 L252.64,252.58 L252.69,251.65 L252.78,250.75 L252.92,249.85 L253.1,248.98 L253.33,248.14 L253.6,247.32 L253.91,246.53 L254.26,245.78 L254.64,245.07 L255.07,244.4 L255.53,243.77 L256.02,243.19 L256.54,242.66 L257.09,242.18 Z" fill="#fff" stroke="#000" stroke-width="1.85" stroke-linejoin="round"/>
<path d="M309.69,225.47 L309.7,226.54 L309.64,227.58 L309.51,228.61 L309.31,229.61 L309.05,230.57 L308.72,231.48 L308.33,232.35 L307.88,233.15 L307.38,233.89 L306.83,234.57 L306.23,235.16 L305.59,235.68 L304.91,236.12 L304.2,236.46 L303.46,236.72 L302.7,236.89 L301.92,236.96 L301.14,236.94 L300.35,236.83 L299.56,236.63 L298.79,236.33 L298.02,235.95 L297.28,235.48 L296.56,234.93 L295.88,234.3 L295.23,233.6 L294.62,232.83 L294.06,232 L293.55,231.12 L293.09,230.18 L292.69,229.21 L292.35,228.2 L292.07,227.16 L291.86,226.1 L291.72,225.04 L291.65,223.97 L291.64,222.91 L291.7,221.86 L291.83,220.83 L292.03,219.84 L292.29,218.88 L292.62,217.96 L293.01,217.1 L293.45,216.29 L293.96,215.55 L294.51,214.88 L295.11,214.28 L295.75,213.76 L296.43,213.33 L297.14,212.98 L297.88,212.72 L298.64,212.56 L299.41,212.48 L300.2,212.5 L300.99,212.61 L301.77,212.82 L302.55,213.11 L303.31,213.5 L304.06,213.97 L304.77,214.52 L305.46,215.14 L306.11,215.84 L306.72,216.61 L307.28,217.44 L307.79,218.33 L308.25,219.26 L308.65,220.24 L308.99,221.25 L309.26,222.29 L309.47,223.34 L309.62,224.41 L309.69,225.47 Z" fill="none" stroke="#000" stroke-width="1.85"/>
<path d="M285.44,242.88 L307.18,224.92" stroke="#000" stroke-width="1.0" fill="none"/>
<path d="M285.72,245.19 L307.43,227.02" stroke="#000" stroke-width="1.0" fill="none"/>
<path d="M285.72,247.49 L307.42,229.1" stroke="#000" stroke-width="1.0" fill="none"/>
<path d="M258.33,224.74 L259.56,223.92 L260.84,223.22 L262.16,222.64 L263.51,222.2 L264.88,221.9 L266.28,221.72 L267.69,221.69 L269.11,221.79 L270.53,222.02 L271.95,222.39 L273.35,222.89 L274.75,223.52 L276.12,224.28 L277.46,225.17 L278.77,226.17 L280.05,227.29 L281.28,228.53 L282.45,229.87 L283.58,231.31 L284.64,232.84 L285.64,234.46 L286.58,236.17 L287.44,237.94 L288.22,239.79 L288.93,241.69 L289.55,243.64 L290.09,245.63 L290.54,247.66 L290.9,249.71 L291.18,251.78 L291.36,253.85 L291.44,255.92 L291.44,257.98 L291.34,260.03 L291.15,262.04 L290.86,264.01 L290.49,265.94 L290.03,267.82 L289.48,269.63 L288.84,271.38 L288.13,273.04 L287.33,274.63 L286.46,276.12 L285.52,277.51 L284.51,278.81 L283.44,279.99 L282.31,281.06 L281.12,282.01 L255.74,300.65 L254.5,301.48 L253.22,302.18 L251.91,302.76 L250.56,303.2 L249.19,303.5 L247.79,303.67 L246.38,303.71 L244.96,303.61 L243.54,303.38 L242.12,303.01 L240.71,302.51 L239.32,301.88 L237.95,301.12 L236.6,300.23 L235.29,299.23 L234.02,298.11 L232.79,296.87 L231.61,295.53 L230.49,294.09 L229.42,292.56 L228.42,290.94 L227.49,289.23 L226.63,287.45 L225.84,285.61 L225.14,283.71 L224.51,281.76 L223.98,279.76 L223.52,277.74 L223.16,275.69 L222.89,273.62 L222.71,271.55 L222.62,269.47 L222.63,267.41 L222.73,265.37 L222.92,263.36 L223.2,261.39 L223.58,259.46 L224.04,257.58 L224.59,255.77 L225.22,254.02 L225.94,252.35 L226.73,250.77 L227.6,249.28 L228.54,247.88 L229.55,246.59 L230.63,245.41 L231.76,244.34 L232.94,243.39 Z" fill="#fff" stroke="#000" stroke-width="1.85" stroke-linejoin="round"/>
<path d="M235.66,241.77 L261.64,222.85" stroke="#000" stroke-width="1.5" fill="none"/>
<path d="M240,240.47 L267.96,221.7" stroke="#000" stroke-width="1.5" fill="none"/>
<path d="M249.02,242 L278.72,226.13" stroke="#000" stroke-width="1.5" fill="none"/>
<path d="M258.1,249.83 L286.1,235.27" stroke="#000" stroke-width="1.5" fill="none"/>
<path d="M263.78,261.03 L290.56,247.76" stroke="#000" stroke-width="1.5" fill="none"/>
<path d="M266.01,273.13 L291.3,260.55" stroke="#000" stroke-width="1.5" fill="none"/>
<path d="M265.08,284.68 L286.32,276.34" stroke="#000" stroke-width="1.5" fill="none"/>
<path d="M236.78,259.57 L237.38,259.17 L238,258.82 L238.64,258.55 L239.3,258.33 L239.97,258.18 L240.65,258.1 L241.33,258.08 L242.02,258.13 L242.71,258.24 L243.41,258.42 L244.09,258.67 L244.77,258.97 L245.44,259.34 L246.09,259.77 L246.73,260.26 L247.35,260.81 L247.95,261.41 L248.52,262.06 L249.07,262.76 L249.59,263.51 L250.07,264.3 L250.53,265.13 L250.95,265.99 L251.33,266.89 L251.67,267.82 L251.97,268.77 L252.24,269.74 L252.46,270.72 L252.63,271.72 L252.77,272.73 L252.85,273.74 L252.9,274.74 L252.89,275.75 L252.84,276.74 L252.75,277.72 L252.61,278.68 L252.43,279.62 L252.21,280.53 L251.94,281.42 L251.63,282.27 L251.28,283.08 L250.9,283.85 L250.47,284.57 L250.01,285.25 L249.52,285.88 L249,286.46 L248.45,286.98 L247.87,287.44 L217.25,309.94 L216.65,310.34 L216.02,310.68 L215.38,310.96 L214.73,311.17 L214.06,311.32 L213.38,311.41 L212.69,311.42 L212,311.38 L211.31,311.26 L210.62,311.08 L209.93,310.84 L209.26,310.53 L208.59,310.16 L207.93,309.73 L207.3,309.24 L206.68,308.69 L206.08,308.09 L205.51,307.44 L204.96,306.74 L204.44,305.99 L203.95,305.2 L203.5,304.38 L203.08,303.51 L202.7,302.61 L202.35,301.69 L202.05,300.74 L201.79,299.77 L201.57,298.78 L201.39,297.78 L201.26,296.78 L201.17,295.77 L201.13,294.76 L201.13,293.76 L201.18,292.76 L201.27,291.78 L201.41,290.82 L201.59,289.88 L201.82,288.97 L202.09,288.09 L202.39,287.24 L202.74,286.43 L203.13,285.66 L203.55,284.93 L204.01,284.25 L204.5,283.62 L205.03,283.05 L205.58,282.53 L206.15,282.06 Z" fill="#fff" stroke="none"/>
<path d="M266.04,273.83 L266.05,276.58 L265.9,279.3 L265.59,281.96 L265.11,284.54 L264.48,287.03 L263.69,289.41 L262.76,291.65 L261.69,293.75 L260.48,295.67 L259.15,297.42 L257.71,298.98 L256.17,300.33 L254.53,301.46 L252.82,302.37 L251.05,303.05 L249.22,303.5 L247.36,303.7 L245.47,303.66 L243.57,303.39 L241.69,302.87 L239.82,302.12 L237.98,301.14 L236.2,299.93 L234.47,298.52 L232.82,296.9 L231.26,295.1 L229.8,293.12 L228.45,290.98 L227.22,288.69 L226.12,286.28 L225.15,283.76 L224.34,281.15 L223.68,278.47 L223.17,275.74 L222.83,272.98 L222.64,270.22 L222.63,267.46 L222.78,264.75 L223.09,262.09 L223.57,259.5 L224.2,257.01 L224.99,254.64 L225.92,252.39 L226.99,250.3 L228.2,248.37 L229.53,246.62 L230.97,245.07 L232.51,243.72 L234.15,242.58 L235.86,241.67 L237.63,240.99 L239.46,240.55 L241.32,240.35 L243.21,240.38 L245.11,240.66 L246.99,241.18 L248.86,241.93 L250.7,242.91 L252.49,244.11 L254.21,245.53 L255.86,247.14 L257.42,248.95 L258.88,250.93 L260.23,253.07 L261.46,255.36 L262.56,257.77 L263.53,260.29 L264.34,262.9 L265,265.58 L265.51,268.31 L265.86,271.07 L266.04,273.83 Z" fill="#fff" stroke="#000" stroke-width="1.85"/>
<path d="M260.28,273.35 L260.29,275.37 L260.18,277.37 L259.95,279.32 L259.6,281.22 L259.13,283.05 L258.56,284.79 L257.87,286.44 L257.08,287.98 L256.2,289.4 L255.22,290.68 L254.16,291.82 L253.03,292.81 L251.83,293.65 L250.57,294.32 L249.27,294.82 L247.92,295.14 L246.56,295.29 L245.17,295.26 L243.78,295.06 L242.39,294.68 L241.02,294.13 L239.67,293.41 L238.36,292.52 L237.09,291.49 L235.88,290.3 L234.73,288.97 L233.66,287.52 L232.67,285.94 L231.76,284.27 L230.95,282.49 L230.25,280.64 L229.65,278.72 L229.16,276.76 L228.79,274.75 L228.54,272.73 L228.4,270.7 L228.39,268.68 L228.5,266.68 L228.73,264.73 L229.08,262.83 L229.55,261 L230.12,259.25 L230.81,257.61 L231.6,256.07 L232.48,254.65 L233.46,253.37 L234.52,252.22 L235.65,251.23 L236.85,250.4 L238.11,249.73 L239.41,249.23 L240.76,248.91 L242.12,248.76 L243.51,248.78 L244.9,248.99 L246.29,249.37 L247.66,249.92 L249.01,250.64 L250.32,251.52 L251.59,252.56 L252.8,253.75 L253.95,255.07 L255.02,256.53 L256.01,258.1 L256.92,259.78 L257.73,261.55 L258.43,263.41 L259.03,265.32 L259.52,267.29 L259.89,269.3 L260.14,271.32 L260.28,273.35 Z" fill="#fff" stroke="#000" stroke-width="1.85"/>
<path d="M206.15,282.06 L236.78,259.57" stroke="#000" stroke-width="1.85" fill="none"/>
<path d="M217.25,309.94 L247.87,287.44" stroke="#000" stroke-width="1.85" fill="none"/>
<path d="M236.78,259.57 L237.5,259.09 L238.26,258.7 L239.03,258.41 L239.83,258.21 L240.65,258.1 L241.47,258.08 L242.3,258.17 L243.13,258.34 L243.95,258.61 L244.77,258.97 L245.57,259.42 L246.35,259.96 L247.1,260.58 L247.83,261.28 L248.52,262.06 L249.17,262.91 L249.78,263.82 L250.35,264.79 L250.87,265.82 L251.33,266.89 L251.74,268 L252.08,269.15 L252.37,270.33 L252.6,271.52 L252.77,272.73 L252.86,273.94 L252.9,275.15 L252.87,276.34 L252.77,277.53 L252.61,278.68 L252.39,279.81 L252.1,280.89 L251.76,281.93 L251.35,282.92 L250.9,283.85 L250.38,284.71 L249.82,285.51 L249.21,286.23 L248.56,286.88 L247.87,287.44" fill="none" stroke="#000" stroke-width="1.85"/>
<path d="M226.89,291.02 L247.04,276.22" stroke="#000" stroke-width="1.1" fill="none"/>
<path d="M226.28,293.77 L247.64,278.08" stroke="#000" stroke-width="1.1" fill="none"/>
<path d="M225.87,296.2 L246.82,280.81" stroke="#000" stroke-width="1.1" fill="none"/>
<path d="M225.25,298.59 L244.99,284.08" stroke="#000" stroke-width="1.1" fill="none"/>
<path d="M224.42,300.87 L242.56,287.55" stroke="#000" stroke-width="1.1" fill="none"/>
<path d="M223.65,302.85 L239.93,290.89" stroke="#000" stroke-width="1.1" fill="none"/>
<path d="M222.26,296.88 L222.27,298.22 L222.2,299.54 L222.04,300.84 L221.81,302.09 L221.5,303.31 L221.12,304.46 L220.67,305.55 L220.14,306.57 L219.56,307.51 L218.91,308.36 L218.21,309.12 L217.46,309.78 L216.66,310.33 L215.83,310.77 L214.96,311.1 L214.08,311.32 L213.17,311.42 L212.25,311.4 L211.33,311.26 L210.41,311.01 L209.5,310.65 L208.61,310.17 L207.74,309.59 L206.9,308.9 L206.09,308.11 L205.33,307.23 L204.62,306.27 L203.96,305.22 L203.37,304.11 L202.83,302.94 L202.36,301.71 L201.96,300.44 L201.64,299.14 L201.4,297.81 L201.23,296.47 L201.14,295.12 L201.13,293.78 L201.2,292.46 L201.36,291.16 L201.59,289.91 L201.9,288.69 L202.28,287.54 L202.73,286.45 L203.26,285.43 L203.84,284.49 L204.49,283.64 L205.19,282.88 L205.94,282.22 L206.74,281.67 L207.57,281.23 L208.44,280.9 L209.32,280.68 L210.23,280.58 L211.15,280.6 L212.07,280.74 L212.99,280.99 L213.9,281.35 L214.79,281.83 L215.66,282.41 L216.5,283.1 L217.31,283.89 L218.07,284.77 L218.78,285.73 L219.44,286.78 L220.03,287.89 L220.57,289.06 L221.04,290.29 L221.44,291.56 L221.76,292.86 L222,294.19 L222.17,295.53 L222.26,296.88 Z" fill="#fff" stroke="#000" stroke-width="1.85"/>
<clipPath id="cw0"><path d="M272.76,103.78 L272.77,105 L272.7,106.21 L272.54,107.39 L272.31,108.54 L272,109.65 L271.62,110.7 L271.17,111.7 L270.64,112.62 L270.06,113.48 L269.41,114.25 L268.71,114.94 L267.96,115.53 L267.16,116.03 L266.33,116.43 L265.46,116.73 L264.58,116.92 L263.67,117 L262.75,116.98 L261.83,116.85 L260.91,116.61 L260,116.27 L259.11,115.83 L258.24,115.29 L257.4,114.65 L256.59,113.93 L255.83,113.12 L255.12,112.23 L254.46,111.28 L253.87,110.26 L253.33,109.18 L252.86,108.05 L252.46,106.89 L252.14,105.69 L251.9,104.48 L251.73,103.25 L251.64,102.02 L251.63,100.8 L251.7,99.59 L251.86,98.41 L252.09,97.26 L252.4,96.15 L252.78,95.1 L253.23,94.1 L253.76,93.18 L254.34,92.32 L254.99,91.55 L255.69,90.86 L256.44,90.27 L257.24,89.77 L258.07,89.37 L258.94,89.07 L259.82,88.88 L260.73,88.8 L261.65,88.82 L262.57,88.95 L263.49,89.19 L264.4,89.53 L265.29,89.97 L266.16,90.51 L267,91.15 L267.81,91.87 L268.57,92.68 L269.28,93.57 L269.94,94.52 L270.53,95.54 L271.07,96.62 L271.54,97.75 L271.94,98.91 L272.26,100.11 L272.5,101.32 L272.67,102.55 L272.76,103.78 Z"/></clipPath><path d="M258,118.5 L268,110 L273,114 L272,119 Z" fill="url(#pk)" clip-path="url(#cw0)"/><path d="M272.76,103.78 L272.77,105 L272.7,106.21 L272.54,107.39 L272.31,108.54 L272,109.65 L271.62,110.7 L271.17,111.7 L270.64,112.62 L270.06,113.48 L269.41,114.25 L268.71,114.94 L267.96,115.53 L267.16,116.03 L266.33,116.43 L265.46,116.73 L264.58,116.92 L263.67,117 L262.75,116.98 L261.83,116.85 L260.91,116.61 L260,116.27 L259.11,115.83 L258.24,115.29 L257.4,114.65 L256.59,113.93 L255.83,113.12 L255.12,112.23 L254.46,111.28 L253.87,110.26 L253.33,109.18 L252.86,108.05 L252.46,106.89 L252.14,105.69 L251.9,104.48 L251.73,103.25 L251.64,102.02 L251.63,100.8 L251.7,99.59 L251.86,98.41 L252.09,97.26 L252.4,96.15 L252.78,95.1 L253.23,94.1 L253.76,93.18 L254.34,92.32 L254.99,91.55 L255.69,90.86 L256.44,90.27 L257.24,89.77 L258.07,89.37 L258.94,89.07 L259.82,88.88 L260.73,88.8 L261.65,88.82 L262.57,88.95 L263.49,89.19 L264.4,89.53 L265.29,89.97 L266.16,90.51 L267,91.15 L267.81,91.87 L268.57,92.68 L269.28,93.57 L269.94,94.52 L270.53,95.54 L271.07,96.62 L271.54,97.75 L271.94,98.91 L272.26,100.11 L272.5,101.32 L272.67,102.55 L272.76,103.78 Z" fill="none" stroke="#000" stroke-width="1.85"/>
<clipPath id="cw2"><path d="M49.46,272.38 L49.47,273.6 L49.4,274.81 L49.24,275.99 L49.01,277.14 L48.7,278.25 L48.32,279.3 L47.87,280.3 L47.34,281.22 L46.76,282.08 L46.11,282.85 L45.41,283.54 L44.66,284.13 L43.86,284.63 L43.03,285.03 L42.16,285.33 L41.28,285.52 L40.37,285.6 L39.45,285.58 L38.53,285.45 L37.61,285.21 L36.7,284.87 L35.81,284.43 L34.94,283.89 L34.1,283.25 L33.29,282.53 L32.53,281.72 L31.82,280.83 L31.16,279.88 L30.57,278.86 L30.03,277.78 L29.56,276.65 L29.16,275.49 L28.84,274.29 L28.6,273.08 L28.43,271.85 L28.34,270.62 L28.33,269.4 L28.4,268.19 L28.56,267.01 L28.79,265.86 L29.1,264.75 L29.48,263.7 L29.93,262.7 L30.46,261.78 L31.04,260.92 L31.69,260.15 L32.39,259.46 L33.14,258.87 L33.94,258.37 L34.77,257.97 L35.64,257.67 L36.52,257.48 L37.43,257.4 L38.35,257.42 L39.27,257.55 L40.19,257.79 L41.1,258.13 L41.99,258.57 L42.86,259.11 L43.7,259.75 L44.51,260.47 L45.27,261.28 L45.98,262.17 L46.64,263.12 L47.23,264.14 L47.77,265.22 L48.24,266.35 L48.64,267.51 L48.96,268.71 L49.2,269.92 L49.37,271.15 L49.46,272.38 Z"/></clipPath><path d="M32,286 L43.1,277.5 L48.5,281 L50,287 Z" fill="url(#pk)" clip-path="url(#cw2)"/><path d="M49.46,272.38 L49.47,273.6 L49.4,274.81 L49.24,275.99 L49.01,277.14 L48.7,278.25 L48.32,279.3 L47.87,280.3 L47.34,281.22 L46.76,282.08 L46.11,282.85 L45.41,283.54 L44.66,284.13 L43.86,284.63 L43.03,285.03 L42.16,285.33 L41.28,285.52 L40.37,285.6 L39.45,285.58 L38.53,285.45 L37.61,285.21 L36.7,284.87 L35.81,284.43 L34.94,283.89 L34.1,283.25 L33.29,282.53 L32.53,281.72 L31.82,280.83 L31.16,279.88 L30.57,278.86 L30.03,277.78 L29.56,276.65 L29.16,275.49 L28.84,274.29 L28.6,273.08 L28.43,271.85 L28.34,270.62 L28.33,269.4 L28.4,268.19 L28.56,267.01 L28.79,265.86 L29.1,264.75 L29.48,263.7 L29.93,262.7 L30.46,261.78 L31.04,260.92 L31.69,260.15 L32.39,259.46 L33.14,258.87 L33.94,258.37 L34.77,257.97 L35.64,257.67 L36.52,257.48 L37.43,257.4 L38.35,257.42 L39.27,257.55 L40.19,257.79 L41.1,258.13 L41.99,258.57 L42.86,259.11 L43.7,259.75 L44.51,260.47 L45.27,261.28 L45.98,262.17 L46.64,263.12 L47.23,264.14 L47.77,265.22 L48.24,266.35 L48.64,267.51 L48.96,268.71 L49.2,269.92 L49.37,271.15 L49.46,272.38 Z" fill="none" stroke="#000" stroke-width="1.85"/>
<clipPath id="cw4"><path d="M309.69,225.47 L309.7,226.54 L309.64,227.58 L309.51,228.61 L309.31,229.61 L309.05,230.57 L308.72,231.48 L308.33,232.35 L307.88,233.15 L307.38,233.89 L306.83,234.57 L306.23,235.16 L305.59,235.68 L304.91,236.12 L304.2,236.46 L303.46,236.72 L302.7,236.89 L301.92,236.96 L301.14,236.94 L300.35,236.83 L299.56,236.63 L298.79,236.33 L298.02,235.95 L297.28,235.48 L296.56,234.93 L295.88,234.3 L295.23,233.6 L294.62,232.83 L294.06,232 L293.55,231.12 L293.09,230.18 L292.69,229.21 L292.35,228.2 L292.07,227.16 L291.86,226.1 L291.72,225.04 L291.65,223.97 L291.64,222.91 L291.7,221.86 L291.83,220.83 L292.03,219.84 L292.29,218.88 L292.62,217.96 L293.01,217.1 L293.45,216.29 L293.96,215.55 L294.51,214.88 L295.11,214.28 L295.75,213.76 L296.43,213.33 L297.14,212.98 L297.88,212.72 L298.64,212.56 L299.41,212.48 L300.2,212.5 L300.99,212.61 L301.77,212.82 L302.55,213.11 L303.31,213.5 L304.06,213.97 L304.77,214.52 L305.46,215.14 L306.11,215.84 L306.72,216.61 L307.28,217.44 L307.79,218.33 L308.25,219.26 L308.65,220.24 L308.99,221.25 L309.26,222.29 L309.47,223.34 L309.62,224.41 L309.69,225.47 Z"/></clipPath><path d="M288,205 L320,205 L320,214.1 L309.5,222 L288,220 Z" fill="url(#pk)" clip-path="url(#cw4)"/><path d="M309.69,225.47 L309.7,226.54 L309.64,227.58 L309.51,228.61 L309.31,229.61 L309.05,230.57 L308.72,231.48 L308.33,232.35 L307.88,233.15 L307.38,233.89 L306.83,234.57 L306.23,235.16 L305.59,235.68 L304.91,236.12 L304.2,236.46 L303.46,236.72 L302.7,236.89 L301.92,236.96 L301.14,236.94 L300.35,236.83 L299.56,236.63 L298.79,236.33 L298.02,235.95 L297.28,235.48 L296.56,234.93 L295.88,234.3 L295.23,233.6 L294.62,232.83 L294.06,232 L293.55,231.12 L293.09,230.18 L292.69,229.21 L292.35,228.2 L292.07,227.16 L291.86,226.1 L291.72,225.04 L291.65,223.97 L291.64,222.91 L291.7,221.86 L291.83,220.83 L292.03,219.84 L292.29,218.88 L292.62,217.96 L293.01,217.1 L293.45,216.29 L293.96,215.55 L294.51,214.88 L295.11,214.28 L295.75,213.76 L296.43,213.33 L297.14,212.98 L297.88,212.72 L298.64,212.56 L299.41,212.48 L300.2,212.5 L300.99,212.61 L301.77,212.82 L302.55,213.11 L303.31,213.5 L304.06,213.97 L304.77,214.52 L305.46,215.14 L306.11,215.84 L306.72,216.61 L307.28,217.44 L307.79,218.33 L308.25,219.26 L308.65,220.24 L308.99,221.25 L309.26,222.29 L309.47,223.34 L309.62,224.41 L309.69,225.47 Z" fill="none" stroke="#000" stroke-width="1.85"/>
<path d="M366.7,7.5 L551,21 L177,302 L22,273 Z" fill="url(#gd)" stroke="#8a8a8a" stroke-width="0.7"/>
<path d="M182,317.4 L556.6,37.4" stroke="#b0b0b0" stroke-width="0.5"/>
<text x="16.2" y="25.6" font-size="20.3" textLength="211" lengthAdjust="spacingAndGlyphs" fill="#000">Floating point positions</text>
<text x="227.2" y="47.9" font-size="10.1" textLength="59" lengthAdjust="spacingAndGlyphs" fill="#000">Reference, 0</text>
<text x="14.2" y="211.3" font-size="10.1" textLength="59" lengthAdjust="spacingAndGlyphs" fill="#000">Reference, 0</text>
<text x="536.0" y="105" font-size="10.2" textLength="42.3" lengthAdjust="spacingAndGlyphs" fill="#000">7 mm Up</text>
<text x="318.0" y="270" font-size="10.2" textLength="41.6" lengthAdjust="spacingAndGlyphs" fill="#000">5 mm Up</text>
<text x="415.1" y="184" font-size="10.2" textLength="103" lengthAdjust="spacingAndGlyphs" fill="#000">Reference plane slope</text>
<text x="439.2" y="197.5" font-size="10.2" textLength="30" lengthAdjust="spacingAndGlyphs" fill="#000">2.42%</text>
<text x="64.2" y="318.3" font-size="10.2" textLength="66" lengthAdjust="spacingAndGlyphs" fill="#000">Product Outlet</text>
<text x="170.6" y="348" font-size="8.8" textLength="26.5" lengthAdjust="spacingAndGlyphs" fill="#000">Note: -</text>
<text x="191.3" y="358" font-size="8.8" textLength="314.5" lengthAdjust="spacingAndGlyphs" fill="#000">1. Up / Down designated in reference to floating point at other roller of same pier.</text>
<text x="190.7" y="369.7" font-size="8.8" textLength="241.5" lengthAdjust="spacingAndGlyphs" fill="#000">2. Ideally floating points should be on same elevation at a pier</text>
<text x="530.8" y="384.8" font-size="7.7" textLength="59" lengthAdjust="spacingAndGlyphs" fill="#000">ALLAN SMITH</text>
<text x="530.8" y="392.6" font-size="7.7" textLength="58" lengthAdjust="spacingAndGlyphs" fill="#000">ENGINEERING</text>

<g>
<circle cx="589.4" cy="343.8" r="4.8" fill="#fff" stroke="#555" stroke-width="0.6"/>
<text x="589.4" y="346.6" font-size="7.5" text-anchor="middle" fill="#111">R</text>
<path d="M546,353.5 C545,349 553,347.2 563,347.4 C578,347.8 588,352 587.6,360 C587.3,364.5 583,368.5 580,370 C580.5,366 576,362.5 568,360.5 C560,358.5 551,357.5 547.5,355.6 Z" fill="#ff0000"/>
<path d="M540,352 C532,355 530,359.5 531.2,363.5 C533,370 544,375 557,375 C567,375 573.5,373 573.2,369.5 C572.5,365.5 566,363.5 556,361.5 C547,359.5 539.5,357.5 540,352 Z" fill="#3a3cf2"/>
</g>
</svg>
</body></html>
